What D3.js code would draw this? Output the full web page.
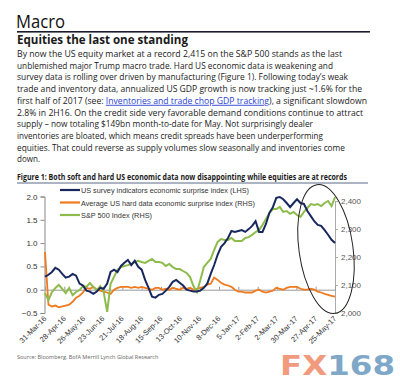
<!DOCTYPE html>
<html>
<head>
<meta charset="UTF-8">
<title>Macro - Equities the last one standing</title>
<script src="https://cdn.jsdelivr.net/npm/d3@7"></script>
<style>
    body, html { margin: 0; padding: 0; background: #fff; }
    svg { display: block; }
</style>
</head>
<body>
<svg id="chart" width="400" height="382"></svg>
<script>
    // series sampled every 5 calendar days from 31-Mar-16 to 25-May-17
    var startDate = new Date(2016, 2, 31);
    var stepDays = 5;

    var surveySurprise = [0.28, 0.32, 0.38, 0.47, 0.43, 0.34, 0.26, 0.28, 0.34, 0.30,
        0.13, 0.09, -0.02, -0.04, -0.09, -0.04, 0.04, 0.02, 0.13, 0.38,
        0.43, 0.38, 0.51, 0.58, 0.64, 0.53, 0.62, 0.49, 0.43, 0.21,
        0.04, -0.15, -0.17, -0.11, -0.09, -0.02, 0.06, 0.17, 0.21, 0.15,
        0.09, 0.00, -0.02, -0.04, -0.04, -0.02, 0.04, 0.13, 0.34, 0.53,
        0.75, 0.92, 1.00, 1.11, 1.26, 1.24, 1.26, 1.28, 1.24, 1.30,
        1.37, 1.47, 1.24, 1.24, 1.41, 1.65, 1.77, 1.97, 1.99, 1.94,
        1.86, 1.77, 1.86, 1.94, 1.86, 1.84, 1.69, 1.58, 1.47, 1.39,
        1.37, 1.28, 1.18, 1.07, 1.00];

    var hardSurprise = [0.81, -0.32, -0.36, -0.34, -0.38, -0.36, -0.34, -0.32, -0.26, -0.17,
        -0.13, -0.06, 0.04, 0.02, 0.06, 0.00, -0.02, -0.04, -0.06, -0.09,
        0.00, 0.04, 0.06, 0.06, 0.06, 0.04, 0.06, 0.04, 0.06, 0.04,
        0.02, 0.00, 0.04, 0.04, 0.00, 0.02, 0.00, 0.04, 0.02, 0.00,
        0.04, 0.02, 0.04, 0.00, 0.02, 0.04, 0.06, 0.11, 0.13, 0.26,
        0.21, 0.15, 0.11, 0.09, 0.06, 0.00, -0.04, -0.04, -0.06, -0.06,
        -0.06, -0.02, 0.00, -0.04, -0.06, -0.04, -0.02, 0.04, 0.02, 0.00,
        0.04, 0.06, 0.06, 0.06, 0.02, 0.00, 0.00, 0.02, 0.00, -0.04,
        -0.06, -0.09, -0.11, -0.13, -0.15];

    var spx = [2071, 2046, 2075, 2089, 2100, 2086, 2071, 2089, 2064, 2075,
        2082, 2096, 2093, 2107, 2093, 2082, 2096, 2075, 2004, 2104,
        2129, 2154, 2164, 2168, 2171, 2175, 2182, 2186, 2182, 2179,
        2186, 2193, 2182, 2182, 2179, 2168, 2175, 2164, 2157, 2157,
        2150, 2143, 2129, 2096, 2075, 2118, 2164, 2179, 2193, 2225,
        2254, 2264, 2261, 2261, 2268, 2257, 2257, 2257, 2268, 2271,
        2279, 2289, 2296, 2314, 2336, 2357, 2371, 2371, 2379, 2361,
        2364, 2354, 2361, 2350, 2343, 2361, 2375, 2389, 2386, 2389,
        2382, 2393, 2400, 2382, 2414];

    var xTickLabels = ["31-Mar-16", "28-Apr-16", "26-May-16", "23-Jun-16", "21-Jul-16",
        "18-Aug-16", "15-Sep-16", "13-Oct-16", "10-Nov-16", "8-Dec-16", "5-Jan-17",
        "2-Feb-17", "2-Mar-17", "30-Mar-17", "27-Apr-17", "25-May-17"];
    var leftTicks = [2.0, 1.5, 1.0, 0.5, 0.0, -0.5];
    var rightTicks = [2400, 2300, 2200, 2100, 2000];

    var legendNames = ["US survey indicators economic surprise index (LHS)",
        "Average US hard data economic surprise index (RHS)",
        "S&P 500 Index (RHS)"];

    var bodyLines = [
        "By now the US equity market at a record 2,415 on the S&P 500 stands as the last",
        "unblemished major Trump macro trade.  Hard US economic data is weakening and",
        "survey data is rolling over driven by manufacturing (Figure 1).  Following today\u2019s weak",
        "trade and inventory data, annualized US GDP growth is now tracking just ~1.6% for the",
        "first half of 2017 (see: |Inventories and trade chop GDP tracking|), a significant slowdown",
        "2.8% in 2H16.  On the credit side very favorable demand conditions continue to attract",
        "supply \u2013 now totaling $149bn month-to-date for May. Not surprisingly dealer",
        "inventories are bloated, which means credit spreads have been underperforming",
        "equities.  That could reverse as supply volumes slow seasonally and inventories come",
        "down."
    ];
    var bodyWidths = [325, 316, 331, 345, 350, 346, 296, 306, 328, 23];

    var svg = d3.select("#chart");
    var textFont = "'Open Sans', 'DejaVu Sans', sans-serif";
    var chartFont = "'Liberation Sans', Arial, sans-serif";

    // ---- header ----
    svg.append("text").attr("x", 16).attr("y", 28)
        .attr("font-family", textFont).attr("font-size", 19).attr("fill", "#111")
        .attr("textLength", 49).attr("lengthAdjust", "spacingAndGlyphs")
        .text("Macro");
    svg.append("rect").attr("x", 17).attr("y", 31).attr("width", 353).attr("height", 1.6)
        .attr("fill", "#1b1b2e");
    svg.append("text").attr("x", 17).attr("y", 43.5)
        .attr("font-family", textFont).attr("font-size", 11.5).attr("font-weight", "bold")
        .attr("fill", "#1a1a1a")
        .attr("textLength", 171).attr("lengthAdjust", "spacingAndGlyphs")
        .text("Equities the last one standing");

    bodyLines.forEach(function (line, i) {
        var t = svg.append("text").attr("x", 17).attr("y", 57 + i * 11.7)
            .attr("font-family", textFont).attr("font-size", 9).attr("fill", "#1a1a1a")
            .attr("textLength", bodyWidths[i]).attr("lengthAdjust", "spacingAndGlyphs");
        var parts = line.split("|");
        parts.forEach(function (p, j) {
            var ts = t.append("tspan").text(p);
            if (j === 1) ts.attr("fill", "#2b3fd0").attr("text-decoration", "underline");
        });
    });

    // ---- figure title ----
    svg.append("text").attr("x", 17).attr("y", 179.5)
        .attr("font-family", textFont).attr("font-size", 8).attr("font-weight", "bold")
        .attr("fill", "#1a1a1a")
        .attr("textLength", 330).attr("lengthAdjust", "spacingAndGlyphs")
        .text("Figure 1:  Both soft and hard US economic data now disappointing while equities are at records");
    svg.append("line").attr("x1", 17).attr("x2", 368).attr("y1", 183).attr("y2", 183)
        .attr("stroke", "#5a6a8a").attr("stroke-width", 1);

    // ---- chart ----
    var endDate = d3.timeDay.offset(startDate, stepDays * (spx.length - 1));
    var x = d3.scaleTime().domain([startDate, endDate]).range([45, 335]);
    var yL = d3.scaleLinear().domain([-0.5, 2.0]).range([313, 196.5]);
    var yR = d3.scaleLinear().domain([2000, 2400]).range([313, 201]);

    function dateAt(i) { return d3.timeDay.offset(startDate, i * stepDays); }

    // left axis
    var leftAxis = svg.append("g").attr("transform", "translate(44.5,0)")
        .call(d3.axisLeft(yL).tickValues(leftTicks).tickSize(4).tickPadding(3)
            .tickFormat(d3.format(".1f")));
    leftAxis.select(".domain").attr("stroke", "#888");
    leftAxis.selectAll(".tick line").attr("stroke", "#888");
    leftAxis.selectAll("text").attr("font-family", chartFont).attr("font-size", 8)
        .attr("fill", "#333");

    // right axis
    var rightAxis = svg.append("g").attr("transform", "translate(335,0)")
        .call(d3.axisRight(yR).tickValues(rightTicks).tickSize(3).tickPadding(3)
            .tickFormat(d3.format(",")));
    rightAxis.select(".domain").attr("stroke", "#aaa");
    rightAxis.selectAll(".tick line").attr("stroke", "#aaa");
    rightAxis.selectAll("text").attr("font-family", chartFont).attr("font-size", 8)
        .attr("fill", "#555");

    // x axis on the zero line
    var tickDates = xTickLabels.map(function (s) { return d3.timeParse("%d-%b-%y")(s); });
    var xAxis = svg.append("g").attr("transform", "translate(0," + yL(0) + ")")
        .call(d3.axisTop(x).tickValues(tickDates).tickSize(3).tickFormat(""));
    xAxis.select(".domain").attr("stroke", "#999");
    xAxis.selectAll(".tick line").attr("stroke", "#999");

    svg.append("g").selectAll("text")
        .data(tickDates)
        .enter()
        .append("text")
        .attr("transform", function (d) { return "translate(" + (x(d) + 2) + ",319) rotate(-45)"; })
        .attr("text-anchor", "end")
        .attr("font-family", chartFont).attr("font-size", 7.5).attr("fill", "#333")
        .text(function (d, i) { return xTickLabels[i]; });

    var lineL = d3.line().x(function (d, i) { return x(dateAt(i)); }).y(function (d) { return yL(d); });
    var lineR = d3.line().x(function (d, i) { return x(dateAt(i)); }).y(function (d) { return yR(d); });

    svg.append("path").datum(hardSurprise).attr("d", lineL)
        .attr("fill", "none").attr("stroke", "#f07a1e").attr("stroke-width", 1.8);
    svg.append("path").datum(spx).attr("d", lineR)
        .attr("fill", "none").attr("stroke", "#8dbb4c").attr("stroke-width", 2);
    svg.append("path").datum(surveySurprise).attr("d", lineL)
        .attr("fill", "none").attr("stroke", "#18285e").attr("stroke-width", 2);

    // legend
    var legendColors = ["#18285e", "#f07a1e", "#8dbb4c"];
    var legendWidths = [168, 174, 71];
    legendNames.forEach(function (name, i) {
        var ly = 190 + i * 12.5;
        svg.append("line").attr("x1", 60).attr("x2", 80).attr("y1", ly).attr("y2", ly)
            .attr("stroke", legendColors[i]).attr("stroke-width", 2.2);
        svg.append("text").attr("x", 81).attr("y", ly + 3)
            .attr("font-family", chartFont).attr("font-size", 8).attr("fill", "#333")
            .attr("textLength", legendWidths[i]).attr("lengthAdjust", "spacingAndGlyphs")
            .text(name);
    });

    // highlight ellipse
    svg.append("ellipse").attr("cx", 326).attr("cy", 249).attr("rx", 27).attr("ry", 65)
        .attr("transform", "rotate(-8,326,249)")
        .attr("fill", "none").attr("stroke", "#222").attr("stroke-width", 1);

    // source + watermark
    svg.append("text").attr("x", 17).attr("y", 359)
        .attr("font-family", textFont).attr("font-size", 5.5).attr("fill", "#666")
        .text("Source: Bloomberg, BofA Merrill Lynch Global Research");

    var wm = svg.append("text").attr("x", 280).attr("y", 375)
        .attr("font-family", "'DejaVu Sans', sans-serif").attr("font-size", 27)
        .attr("font-weight", "bold")
        .attr("textLength", 115).attr("lengthAdjust", "spacingAndGlyphs");
    wm.append("tspan").attr("fill", "#f29a7e").text("FX");
    wm.append("tspan").attr("fill", "#7ea7c8").text("168");
</script>
</body>
</html>
